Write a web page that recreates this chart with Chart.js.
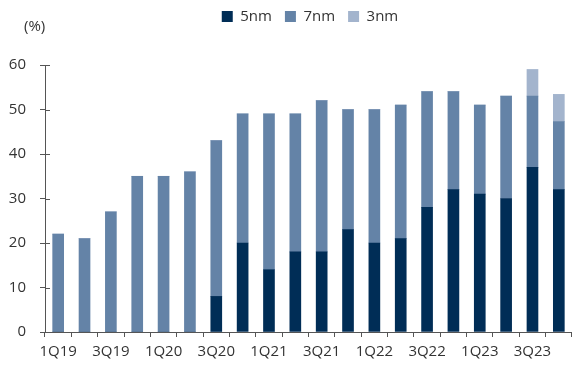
<!DOCTYPE html>
<html>
<head>
<meta charset="utf-8">
<script src="https://cdn.jsdelivr.net/npm/chart.js@4"></script>
<style>
    html, body { margin: 0; padding: 0; background: #fff; }
    #wrap { position: relative; width: 572px; height: 367px; }
    #unit { position: absolute; left: 24px; top: 15px; font: 15px "Open Sans", sans-serif; color: #333; }
</style>
</head>
<body>
<div id="wrap">
    <canvas id="chart" width="572" height="367"></canvas>
    <div id="unit">(%)</div>
</div>
<script>
// Quarterly share by node (%)
const quarters = ["1Q19", "2Q19", "3Q19", "4Q19", "1Q20", "2Q20", "3Q20", "4Q20",
    "1Q21", "2Q21", "3Q21", "4Q21", "1Q22", "2Q22", "3Q22", "4Q22",
    "1Q23", "2Q23", "3Q23", "4Q23"];
const nm5 = [0, 0, 0, 0, 0, 0, 8, 20, 14, 18, 18, 23, 20, 21, 28, 32, 31, 30, 37, 32];
const nm7 = [22, 21, 27, 35, 35, 36, 35, 29, 35, 31, 34, 27, 30, 30, 26, 22, 20, 23, 16, 15.3];
const nm3 = [0, 0, 0, 0, 0, 0, 0, 0, 0, 0, 0, 0, 0, 0, 0, 0, 0, 0, 6, 6.1];
const yTicks = [0, 10, 20, 30, 40, 50, 60];

const axisColor = "#555";
const textColor = "#333";
const font = { family: "'Open Sans', sans-serif", size: 15 };

// legend spacing/position tweaks + small inward tick marks on the y axis
const extras = {
    id: "extras",
    beforeLayout(chart) {
        const lg = chart.legend;
        if (lg && !lg._patched) {
            const fit = lg.fit.bind(lg);
            lg.fit = function () { fit(); this.height += 27; };
            lg._patched = true;
        }
    },
    afterLayout(chart) {
        chart.legend.left += 48;
        chart.legend.top -= 4;
    },
    afterDraw(chart) {
        const y = chart.scales.y;
        const ctx = chart.ctx;
        ctx.save();
        ctx.strokeStyle = axisColor;
        ctx.lineWidth = 1;
        y.ticks.forEach(t => {
            const py = Math.round(y.getPixelForValue(t.value)) + 0.5;
            ctx.beginPath();
            ctx.moveTo(y.right, py);
            ctx.lineTo(y.right + 5, py);
            ctx.stroke();
        });
        ctx.restore();
    }
};

new Chart(document.getElementById("chart"), {
    type: "bar",
    data: {
        labels: quarters,
        datasets: [
            { label: "5nm", data: nm5, backgroundColor: "#002d56" },
            { label: "7nm", data: nm7, backgroundColor: "#6483a7" },
            { label: "3nm", data: nm3, backgroundColor: "#a3b4cd" }
        ]
    },
    options: {
        responsive: false,
        animation: false,
        layout: { padding: 0 },
        datasets: { bar: { barThickness: 11 } },
        plugins: {
            legend: {
                position: "top",
                labels: {
                    boxWidth: 11,
                    boxHeight: 11,
                    padding: 13,
                    color: textColor,
                    font: font
                }
            },
            tooltip: { enabled: false }
        },
        scales: {
            x: {
                stacked: true,
                grid: { offset: true, drawOnChartArea: false, tickLength: 5, color: axisColor },
                border: { color: axisColor },
                ticks: {
                    autoSkip: false,
                    maxRotation: 0,
                    padding: 6,
                    color: textColor,
                    font: font,
                    callback: (v, i) => (i % 2 === 0 ? quarters[i] : "")
                },
                afterFit: s => { s.height = 35; }
            },
            y: {
                stacked: true,
                min: yTicks[0],
                max: yTicks[yTicks.length - 1],
                afterBuildTicks: s => { s.ticks = yTicks.map(v => ({ value: v })); },
                grid: { drawOnChartArea: false, tickLength: 5, color: axisColor },
                border: { color: axisColor },
                ticks: { padding: 14, color: textColor, font: font },
                afterFit: s => { s.width = 45; }
            }
        }
    },
    plugins: [extras]
});
</script>
</body>
</html>
